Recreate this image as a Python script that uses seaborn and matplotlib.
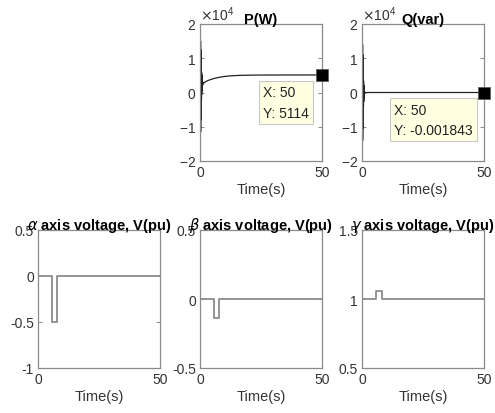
import numpy as np
import pandas as pd
import seaborn as sns
import matplotlib
matplotlib.use("Agg")
import matplotlib.pyplot as plt

# ---------------- Data ----------------
# active power P(W): fast oscillation right after start, then slow rise
p_time = [0.20, 0.24, 0.28, 0.32, 0.36, 0.40, 0.44, 0.48, 0.52, 0.56,
          0.60, 0.64, 0.68, 0.72, 0.76, 0.80, 0.84, 0.88, 0.92, 0.96,
          1.00, 1.04, 1.08, 1.12, 1.16, 1.20,
          1.8, 2.5, 4, 6, 8, 10, 12, 15, 18, 22, 26, 30, 40, 50]
p_watt = [0, 15000, -11500, 12500, -8000, 10000, -5500, 8500, -3500, 7000,
          -2000, 6000, -600, 5200, 500, 4500, 1200, 3900, 1700, 3400,
          2100, 3100, 2300, 2800, 2500, 2600,
          2900, 3250, 3700, 4150, 4450, 4680, 4830, 4960, 5030, 5080,
          5100, 5108, 5113, 5114]

# reactive power Q(var): oscillation around zero, then flat
q_time = [0.20, 0.24, 0.28, 0.32, 0.36, 0.40, 0.44, 0.48, 0.52, 0.56,
          0.60, 0.64, 0.68, 0.72, 0.76, 0.80, 0.84, 0.88, 0.92, 0.96,
          1.00, 1.05, 1.10, 1.20, 1.4, 50]
q_var = [0, 14000, -14000, 11000, -10500, 8500, -7500, 6500, -5500, 4800,
         -4000, 3400, -2700, 2200, -1700, 1300, -1000, 700, -450, 300,
         -150, 80, -30, 10, 0, -0.001843]

# alpha / beta / gamma axis voltages (pu)
alpha_time = [0, 5.6, 5.6, 7.9, 7.9, 50]
alpha_pu = [0, 0, -0.5, -0.5, 0, 0]
beta_time = [0, 5.9, 5.9, 7.9, 7.9, 50]
beta_pu = [0, 0, -0.14, -0.14, 0, 0]
gamma_time = [0, 5.7, 5.7, 8.0, 8.0, 50]
gamma_pu = [1, 1, 1.058, 1.058, 1, 1]

# datatips
p_tip = (50, 5114)
q_tip = (50, -0.001843)

# ---------------- Style ----------------
sns.set_theme(style="ticks")
plt.rcParams["font.family"] = ["Liberation Sans", "DejaVu Sans"]
plt.rcParams["mathtext.fontset"] = "dejavusans"
plt.rcParams["axes.unicode_minus"] = False

edge = "#8a8a8a"
txt = "#333333"

fig = plt.figure(figsize=(4.95, 4.14), dpi=100)
W, H = 495, 414


def make_ax(left, top, width, height):
    return fig.add_axes([left / W, (H - top - height) / H, width / W, height / H])


def style_ax(ax, ylim, yticks):
    ax.set_xlim(0, 50)
    ax.set_xticks([0, 50])
    ax.set_ylim(*ylim)
    ax.set_yticks(yticks)
    for s in ax.spines.values():
        s.set_color(edge)
        s.set_linewidth(0.9)
    ax.tick_params(direction="in", length=3, width=0.7, color=edge,
                   labelsize=10, labelcolor=txt, pad=3,
                   top=True, right=True)
    ax.set_xlabel("Time(s)", fontsize=10.5, color=txt, labelpad=2)
    ax.set_ylabel("")


def tip(ax, point, label, dx):
    sns.scatterplot(x=[point[0]], y=[point[1]], ax=ax, marker="s", s=75,
                    color="black", edgecolor="#555555", linewidth=0.5,
                    clip_on=False, zorder=5, legend=False)
    ax.annotate(label, xy=point, xytext=(dx, -10), textcoords="offset pixels",
                ha="left", va="top", fontsize=10, color="#222222",
                linespacing=1.6, zorder=6,
                bbox=dict(boxstyle="square,pad=0.3", fc="#ffffe1",
                          ec="#c8c8c8", lw=0.8))


# ---------------- Top row: P and Q ----------------
for left, t, v, title, label, dx in [
        (200, p_time, p_watt, "P(W)", "X: 50\nY: 5114", -59),
        (362, q_time, q_var, "Q(var)", "X: 50\nY: -0.001843", -90)]:
    ax = make_ax(left, 25, 122, 137)
    sns.lineplot(x=t, y=v, ax=ax, estimator=None, sort=False,
                 color="#202020", linewidth=0.9)
    style_ax(ax, (-20000, 20000), [-20000, -10000, 0, 10000, 20000])
    ax.ticklabel_format(axis="y", style="sci", scilimits=(4, 4), useMathText=True)
    ax.yaxis.get_offset_text().set_fontsize(10)
    ax.yaxis.get_offset_text().set_color(txt)
    ax.set_title(title, fontsize=10.5, fontweight="bold", color="black", pad=1)
    tip(ax, p_tip if left == 200 else q_tip, label, dx)

# ---------------- Bottom row: voltages ----------------
bottom = [
    (38, alpha_time, alpha_pu, (-1, 0.5), [-1, -0.5, 0, 0.5], r"$\alpha$ axis voltage, V(pu)"),
    (200, beta_time, beta_pu, (-0.5, 0.5), [-0.5, 0, 0.5], r"$\beta$ axis voltage, V(pu)"),
    (362, gamma_time, gamma_pu, (0.5, 1.5), [0.5, 1, 1.5], r"$\gamma$ axis voltage, V(pu)"),
]
for left, t, v, ylim, yt, title in bottom:
    ax = make_ax(left, 231, 122, 138)
    sns.lineplot(x=t, y=v, ax=ax, estimator=None, sort=False,
                 color="#8c8c8c", linewidth=1.3)
    style_ax(ax, ylim, yt)
    ax.set_yticklabels([f"{y:g}" for y in yt])
    ax.set_title(title, fontsize=10.5, fontweight="bold", color="black", pad=1)

fig.savefig("out.png", dpi=100, facecolor="white")
